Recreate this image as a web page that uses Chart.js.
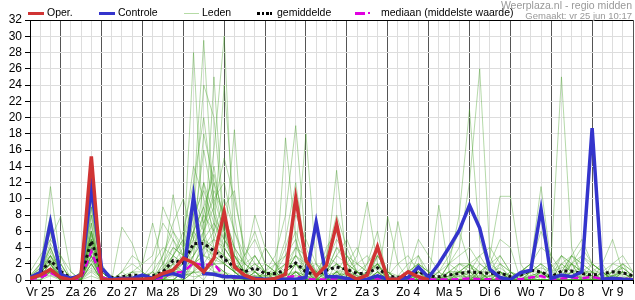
<!DOCTYPE html>
<html>
<head>
<meta charset="utf-8">
<script src="https://cdn.jsdelivr.net/npm/chart.js@4.4.1/dist/chart.umd.min.js"></script>
<style>
body{margin:0;background:#fff;font-family:"Liberation Sans",Arial,sans-serif;}
#wrap{position:relative;width:635px;height:300px;}
#wrap canvas{position:absolute;left:0;top:0;}
.lg{position:absolute;font-size:10.5px;line-height:13px;color:#000;white-space:nowrap;}
.sw{position:absolute;}
.hd{position:absolute;right:3px;color:#999;white-space:nowrap;text-align:right;}
</style>
</head>
<body>
<div id="wrap">
  <canvas id="ens" width="635" height="300"></canvas>
  <div class="sw" style="left:28px;top:12px;width:16px;height:3px;background:#d03434"></div>
  <div class="lg" style="left:47px;top:6px">Oper.</div>
  <div class="sw" style="left:99px;top:12px;width:16px;height:3px;background:#3434cc"></div>
  <div class="lg" style="left:118px;top:6px">Controle</div>
  <div class="sw" style="left:184px;top:13px;width:15px;height:1px;background:#b5dba5"></div>
  <div class="lg" style="left:202px;top:6px">Leden</div>
  <div class="sw" style="left:257px;top:12px;width:15px;height:3px;background:repeating-linear-gradient(90deg,#000 0 3px,transparent 3px 4.5px)"></div>
  <div class="lg" style="left:277px;top:6px">gemiddelde</div>
  <div class="sw" style="left:355px;top:12px;width:10px;height:3px;background:#e000e0"></div>
  <div class="sw" style="left:368px;top:12px;width:2px;height:2px;background:#e000e0"></div>
  <div class="lg" style="left:381px;top:6px">mediaan (middelste waarde)</div>
  <div class="hd" style="top:-1px;font-size:10.5px">Weerplaza.nl - regio midden</div>
  <div class="hd" style="top:10px;font-size:9.5px">Gemaakt: vr 25 jun 10:17</div>
</div>
<script>
// 6-hourly steps, first value at Vr 25 06:00 (hour 6)
const dayLabels=['Vr 25','Za 26','Zo 27','Ma 28','Di 29','Wo 30','Do 1','Vr 2','Za 3','Zo 4','Ma 5','Di 6','Wo 7','Do 8','Vr 9'];

const oper=[0.2,0.6,1.3, 0.3,0,0.6,15.2, 0.1,0,0.1,0.1, 0.1,0.2,0.8,1.2, 2.7,2.1,1.0,2.7, 8.4,1.6,0.6,0.1, 0,0.2,0.7,10.1, 2.4,0.5,1.8,6.9, 0.8,0.1,0.6,4.1, 0.1,0.1,1.0,0.4, 0];
const controle=[0.3,0.9,7.1, 0.7,0.2,0.6,11.4, 1.5,0.1,0.2,0.2, 0.6,0.2,0.6,0.8, 0.4,10.3,0.8,0.7, 0.4,0.4,0.3,0.2, 0.1,0.1,0.1,0.1, 0.3,7.1,0.4,0.4, 0.2,0.1,0.1,0.5, 0.1,0.1,0.3,1.6, 0.3,2.0,4.0,6.1, 9.2,6.4,1.3,0.3, 0.05,0.9,1.2,8.7, 0.2,0.6,0.4,1.0, 18.7,0.1,0.2,0.1, 0];
const gemiddelde=[0.3,0.9,2.4, 1.1,0.2,0.5,4.8, 1.1,0.3,0.4,0.6, 0.5,0.5,1.0,2.4, 2.1,4.5,4.5,3.6, 2.6,1.6,1.0,1.5, 0.8,0.8,1.2,2.1, 1.0,0.6,1.2,1.6, 1.3,0.8,0.8,1.5, 0.5,0.3,0.6,1.0, 0.5,0.4,0.6,0.8, 1.0,0.9,0.8,0.9, 0.4,0.6,1.2,1.0, 0.4,1.1,1.1,0.8, 0.6,0.8,1.0,0.9, 0.5];
const mediaan=[0.1,0.3,0.9, 0.3,0.05,0.2,3.5, 0.3,0.05,0.05,0.05, 0.05,0.05,0.3,0.9, 1.0,2.1,1.8,2.0, 0.4,0.3,0.3,0.2, 0.05,0.1,0.3,0.5, 0.1,0.05,0.1,0.2, 0.2,0.1,0.05,0.2, 0.05,0.05,0.05,0.1, 0.05,0.05,0.05,0.1, 0.2,0.1,0.1,0.2, 0.05,0.1,0.3,0.5, 0.1,0.2,0.3,0.2, 0.4,0.1,0.2,0.2, 0.1];

const leden=[
 [0,1,4, 1,0,0,6, 1,0,0,0, 0,0,1,3, 2,6,4,3, 2,1,0,1, 0,1,2,3, 1,0,1,2, 1,0,1,2, 0,0,0,1, 0,0,1,1, 1,1,0,1, 0,0,1,2, 0,1,2,1, 1,0,1,1, 0],
 [0.5,2,6, 1,0,1,8, 2,0,0,1, 1,0,2,5, 3,9,6,2, 1,0,1,3, 1,0,1,2, 0,1,2,1, 0,1,0,3, 1,0,1,2, 0,1,0,0, 2,1,0,0, 0,1,2,1, 0,0,1,3, 2,1,0,2, 1],
 [0,0.5,2, 3,1,0,4, 0,0,1,0, 0,1,0,2, 1,3,12,5, 2,3,1,0, 0,0,1,4, 2,0,0,1, 3,1,0,0, 0,0,1,2, 1,0,0,2, 1,0,1,3, 1,0,0,1, 0,2,1,0, 1,2,0,0, 0],
 [0.2,1,11.5, 2,0,0,9, 1,0,0,0, 0,0,0,1, 2,4,8,14, 6,2,0,0, 1,2,0,1, 0,0,3,2, 1,0,0,1, 0,0,0,0, 0,0,0,1, 0,2,1,0, 0,0,0,1, 0,3,1,0, 2,1,0,0, 1],
 [1,3,5, 3,0,0.5,3, 0,0,0,0, 0,0,1,4, 3,28,5,1, 0,0,0,1, 2,1,0,0, 0,0,1,4, 2,1,0,0, 1,0,0,1, 0,0,0,0, 0,1,0,2, 1,0,0,0, 0,0,1,1, 0,0,1,2, 0],
 [0,0.5,1, 0,0,0,5, 0,0,6.5,4.5, 1,0,0,0, 1,2,3,2, 4,18.5,1,0, 0,0,0,2, 1,0,0,0, 0,1,2,6, 0,0,0,1, 0,0,2,1, 0,0,0,0, 1,0,0,0, 0,0,0,0, 0,1,0,0, 0],
 [0,1,3, 1,0,0,7, 0,0,0,0, 0,0,1,10.5, 4,10,29.5,8, 3,1,2,1, 0,0,0,1, 0,0,0,0, 1,0,0,0, 0,0,1,0, 0,0,1,0, 0,0,0,1, 0,0,0,0, 0,0,2,0, 0,0,0,1, 0],
 [0.5,2,8, 0,0,0,4, 1,0,0,0, 0,0,0,1, 0,3,6,16, 30,3,0,0, 0,1,0,0, 1,2,0,0, 0,0,0,0, 1,0,0,0, 0,0,0,0, 0,1,0,0, 0,0,0,0, 0,0,3,1, 0,0,0,0, 0],
 [0,0,1, 0,0,0,2, 0,0,0,0, 0,0,0,0, 0,1,2,4, 3,1,0,0, 1,3,8,19, 4,1,0,0, 0,0,0,0, 0,0,0,0, 0,0,0,0, 0,0,0,1, 0,0,0,0, 0,0,0,0, 0,0,0,0, 0],
 [0,1,2, 0,0,0,6, 0,0,0,0, 0,0,0,0, 1,2,4,6, 24,8,0,1, 0,0,1,3, 18,2,0,1, 0,0,0,1, 0,0,0,0, 0,0,0,0, 0,0,0,0, 0,0,1,1, 0,0,0,0, 0,0,0,0, 0],
 [0.5,1,2, 0,0,1,5, 1,0,0,0, 0,0,1,2, 1,5,3,5, 4,2,1,3, 1,0,0,1, 0,0,2,13.5, 2,1,0,1, 0,0,0,0, 0,0,0,0, 0,0,0,0, 0,0,0,0, 0,0,0,0, 0,0,0,1, 0],
 [0,0,0.5, 0,0,0,3, 0,0,0,0, 0,0,0,1, 0,2,1,2, 1,0,0,0, 0,0,0,1, 0,0,1,0, 0,0,0,2, 0,0,0,3, 0,0,2,4, 12,26,3,0, 0,0,0,0, 0,0,0,0, 0,0,0,0, 0],
 [0,1,3, 1,0,1,10, 1,0,0,0, 0,1,0,0, 0,1,6,11, 8,4,0,0, 0,0,0,2, 1,0,0,0, 0,0,0,0, 0,0,0,0, 0,0,2,8, 21,5,1,0, 0,0,0,0, 0,2,1,0, 0,0,0,0, 0],
 [0,0,1, 0,0,0,2, 0,0,0,0, 0,0,0,0, 1,1,0,2, 1,0,0,0, 0,0,0,0, 0,0,0,1, 0,0,0,0, 0,0,0,0, 0,0,0,0, 0,0,1,0, 0,1,2,6, 3,25,4,0, 1,0,0,0, 0],
 [0.1,0.3,0.6, 0.2,0,0.1,1.2, 0.3,0.1,0,0, 0.1,0.2,0.4,0.8, 0.6,0.9,1.2,0.7, 0.5,0.3,0.2,0.4, 0.2,0.1,0.3,0.6, 0.3,0.1,0.2,0.5, 0.4,0.2,0.1,0.3, 0.2,0.1,0.1,0.4, 0.2,0.1,0.3,0.5, 0.4,0.2,0.1,0.3, 0.2,0.1,0.4,0.6, 0.3,0.2,0.5,0.4, 0.3,0.2,0.4,0.3, 0.2],
 [0,0.5,1, 0,0,0,0.5, 0,0,0,0.3, 0.2,0,0.5,1.5, 0.8,0.4,0.6,1, 0.7,0.3,0.1,0.2, 0.4,0.2,0.6,1.1, 0.5,0.2,0.3,0.7, 0.6,0.3,0.2,0.5, 0.3,0.1,0.2,0.6, 0.4,0.2,0.5,0.9, 0.6,0.3,0.4,0.7, 0.3,0.2,0.6,0.8, 0.4,0.5,0.9,0.6, 0.5,0.3,0.6,0.7, 0.4],
 [0,1,2, 2,0,0,4, 0,0,1,2, 1,0,1,2, 4,6,9,4, 2,1,3,6, 2,1,0,0, 0,0,1,3, 5,2,1,3, 1,0,1,5, 3,1,0,1, 2,1,1,2, 0,0,1,0, 0,1,3,2, 1,0,2,3, 1],
 [0,2,5, 7.8,1,0,6, 0,0,0,1, 2,3,7,5, 2,8,24,20, 6,3,1,2, 1,1,5,12, 3,1,0,0, 1,0,1,2, 0,0,0,2, 1,0,0,1, 0,1,0,1, 0,0,0,1, 0,0,2,4, 2,1,0,1, 0],
 [0,1,3, 0,0,0,3, 0,0,0,0, 0,0,9,6, 3,4,7,10, 12,6,2,1, 0,0,0,1, 0,0,0,0, 2,4,1,0, 0,0,0,0, 0,0,1,2, 2,0,0,0, 0,0,0,0, 0,0,0,0, 0,2,5,1, 0],
 [0.3,1,2, 0,0,0,2, 0,0,1,3, 2,7,2,1, 1,2,4,5, 9,11,3,1, 4,2,1,0, 0,0,0,2, 1,3,9.6,2, 0,0,1,0, 0,0,1,1, 2,0,1,0, 1,0,0,0, 0,0,0,0, 0,1,0,0, 0],
 [0,0.5,2, 0,0,0,5, 0,0,0,0, 0,0,0,3, 5,14,10,6, 3,1,0,0, 0,0,0,1, 0,0,0,0, 0,0,0,0, 7.8,2,0,0, 0,0,0,0, 1,0,3,10.3, 10.3,2,0,0, 0,0,0,0, 0,0,0,0, 0],
 [0,1,1, 1,0,0,4, 0,0,0,0, 0,0,0,1, 1,6,16,9, 4,2,0,0, 1,0,0,0, 0,0,0,0, 0,0,0,0, 0,7.2,1,0, 0,0,0,0, 0,0,0,0, 0,1,2,11.5, 2,0,0,0, 0,1,0,0, 0],
 [0,0,1, 0,0,0,1, 0,0,0,0, 0,0,0,0, 0,0,1,2, 2,1,0,0, 0,0,0,0, 0,0,0,0, 0,0,0,0, 0,0,0,0, 0,9.2,1,0, 0,0,0,0, 0,0,0,0, 0,0,0,0, 0,0,0,0, 0],
 [0.5,1.5,4, 0.5,0,0,5, 0,0,0,0, 0,0,0,1, 2,3,5,7, 5,3,1,0, 0,2,3,5, 1,0,0,0, 0,0,2,4, 1,0,0,0, 0,0,0,0, 0,0,2,5, 4,0,0,0, 1,3,2,0, 0,0,0,0, 0],
 [0.2,0.4,0.8, 0.3,0,0.2,1.5, 0.2,0,0,0.1, 0.2,0,0.3,0.6, 0.4,1,0.8,0.5, 0.3,0.2,0.1,0.3, 0.1,0,0.2,0.5, 0.2,0,0.1,0.4, 0.3,0.1,0,0.2, 0.1,0,0,0.3, 0.1,0,0.2,0.4, 0.3,0.1,0,0.2, 0.1,0,0.3,0.5, 0.2,0.1,0.4,0.3, 0.2,0.1,0.3,0.2, 0.1],
 [0,0.5,1.5, 0,0,0.5,2.5, 0,0,0,0, 0,0,0.5,1, 1,2,2,1, 1,0.5,0,0.5, 0,0,0.5,1, 0.5,0,0,0.5, 1,0.5,0,0.5, 0,0,0,0.5, 0,0,0.5,1, 0.5,0,0.5,1, 0,0,0.5,1, 0.5,0,1,1.5, 0.5,0,0.5,1, 0],
 [0,1,4, 1,0,0,3.5, 0.5,0,0,0, 0,0,2,4, 3,7,12,8, 5,2,0,0, 0,0,0,2, 0,0,4,6, 2,0,0,1, 0,0,0,0, 0,0,0,0, 0,0,0,0, 0,0,0,0, 0,0,0,0, 0,0,0,0, 0],
 [0.2,1,2.5, 0,0,0,8, 0,0,0,1, 0,0,0,0, 1,4,5,3, 2,1,0,1, 0,0,17.5,5, 0,0,0,0, 0,0,0,0, 0,0,0,0, 0,0,0,0, 0,0,0,0, 0,0,0,0, 0,0,0,0, 0,0,0,0, 0],
 [0,0.5,1, 0,0,0,2, 0,0,0,0, 0,0,0,0, 0,1,3,25, 6,1,0,0, 0,0,0,0, 0,0,0,0, 0,0,0,0, 0,0,0,0, 0,0,0,0, 0,0,0,0, 0,0,0,0, 0,0,0,0, 0,0,0,0, 0],
 [0,1.5,6, 0.5,0,0,6, 0,0,0,0, 0,0,3,7, 10,5,18,12, 5,3,2,8, 4,2,0,0, 0,0,0,0, 0,0,0,0, 0,0,0,0, 0,0,0,0, 0,0,0,0, 0,0,0,0, 0,0,0,0, 0,0,0,0, 0],
 [0.3,1.5,3, 1.5,0.5,0,5.5, 0.5,0,0.5,1, 0.5,1,3,6, 4,8,11,7, 4,2,1,2, 0.5,1,3,6, 2,0.5,1,3, 2,1,0.5,2, 0.5,0,1,2, 1,0.5,1,2, 1.5,1,2,3, 1,0.5,1,2, 1,2,3,2, 1,1,2,1.5, 0.5],
 [0,0.8,2.5, 0.5,0,0.3,7, 0.5,0,0,0.5, 0,0.5,1.5,3, 5,10,7,12, 8,4,2,3, 1,0.5,2,4, 3,1,0.5,1, 1,2,3,1, 0,0.5,2,3, 1,0,0.5,1, 2,3,1,0.5, 0,1,2,4, 3,1,0.5,1, 2,1,0.5,1, 0.5],
 [0.2,0.6,1.5, 0.8,0,0,2.5, 0.3,0,0,0, 0,0,0.5,2, 3,5,8,6, 10,6,3,5, 2,1,4,8, 5,2,1,4, 3,1,0.5,3, 1,0.5,0,1, 0.5,1,2,3, 4,2,1,1.5, 0.5,0.5,1,1.5, 1,0.5,2,3, 1.5,0.5,1,2, 1],
 [0,1.2,4.5, 2,0,0,3, 0.2,0,0,0, 0.3,2,4,3, 2,6,9,13, 7,3,1,0.5, 0.5,1,2,2, 1,0.5,2,5, 3,2,1,0.5, 0.5,2,3,1, 0.5,0,0,0.5, 1,3,4,2, 1,0.5,0,0.5, 1.5,3,2,1, 0.5,0,0.5,1.5, 0.5],
 [0.4,1,3.5, 1,0,0,4.5, 1.5,0.5,0,0, 0,0,1,3, 6,12,20,10, 6,4,2,1, 0,0,1,2, 1,1,3,8, 4,1,0,0, 0,0,0,0.5, 0,1,3,6, 2,0,0,0, 0,0,0.5,1, 0.5,0,0,0, 0,0,0,0, 0],
 [0,0.5,2, 0.5,0,0.5,6, 1,0,0,0, 0,0,0,1.5, 2,4,6,9, 15,10,4,2, 1,0.5,1,3, 1.5,0,0,1, 0.5,0,0,0, 0,0,0,0, 0,0,0,0, 0.5,1,2,1, 0.5,0,0,0, 0,1,3,5, 2,1,0,0, 0],
 [0.1,0.6,3, 0.5,0,0,9, 0.5,0,0,0, 0,0,0,0.5, 0.5,2,3,2.5, 2,1,0.5,0.5, 0.5,1,1,2, 0.5,0,0,1, 1.5,0.5,0,1, 0.5,0,0,0, 0,0,0,0, 0,0.5,0.5,1, 0,0,0,0.5, 0.5,0.5,1,1, 0.5,0,0.5,0.5, 0],
 [0.3,1,2, 0.5,0,0.2,3, 0.3,0,0,0, 0,0,0.5,1.5, 1,3,5,4, 3,2,1,1, 0.5,0.5,1,3, 2,1,1,2, 1,0.5,1,2, 0.5,0,0.5,1.5, 0.5,0,0.5,1, 1,0.5,0.5,1, 0.5,0.5,1,2, 1,1.5,2,1, 1,0.5,1,1.5, 0.5]
];

const hourOf=i=>6+6*i;
const pts=arr=>arr.map((v,i)=>({x:hourOf(i),y:v}));

const datasets=[
  {label:'Oper.', data:pts(oper), borderColor:'#d03434', borderWidth:3.5},
  {label:'Controle', data:pts(controle), borderColor:'#3434cc', borderWidth:3.5},
  {label:'gemiddelde', data:pts(gemiddelde), borderColor:'#111', borderWidth:3, borderDash:[3,3]},
  {label:'mediaan (middelste waarde)', data:pts(mediaan), borderColor:'#e000e0', borderWidth:2.5, borderDash:[7,4]}
];
leden.forEach(m=>datasets.push({label:'Leden', data:pts(m), borderColor:'rgba(70,160,40,0.4)', borderWidth:1}));
datasets.forEach(d=>{d.pointRadius=0; d.tension=0; d.fill=false;});

const frame={
  id:'frame',
  afterDraw(c){
    const a=c.chartArea, g=c.ctx;
    g.save(); g.strokeStyle='#000'; g.lineWidth=1;
    g.beginPath(); g.moveTo(a.left,a.top+0.5); g.lineTo(a.right,a.top+0.5); g.stroke();
    g.restore();
  }
};

new Chart(document.getElementById('ens'),{
  type:'line',
  data:{datasets},
  plugins:[frame],
  options:{
    responsive:false, animation:false, devicePixelRatio:1,
    layout:{padding:{top:20,right:2,left:0,bottom:0}},
    plugins:{legend:{display:false}, tooltip:{enabled:false}},
    scales:{
      x:{
        type:'linear', min:6, max:360,
        afterFit:s=>{s.height=20;},
        ticks:{stepSize:6, autoSkip:false, maxRotation:0, minRotation:0, padding:1,
          color:'#000', font:{family:'"Liberation Sans", Arial', size:12},
          callback:v=>(v%24===12)?dayLabels[(v-12)/24]:''},
        grid:{color:c=>(c.tick&&c.tick.value%24===0)?'#555':'#ddd', tickColor:'#000', tickLength:4, lineWidth:1},
        border:{color:'#000'}
      },
      y:{
        min:0, max:32,
        afterFit:s=>{s.width=30;},
        ticks:{stepSize:2, autoSkip:false, padding:3, color:'#000', font:{family:'"Liberation Sans", Arial', size:12}},
        grid:{color:'#ddd', tickColor:'#000', tickLength:5},
        border:{color:'#000'}
      }
    }
  }
});
</script>
</body>
</html>
